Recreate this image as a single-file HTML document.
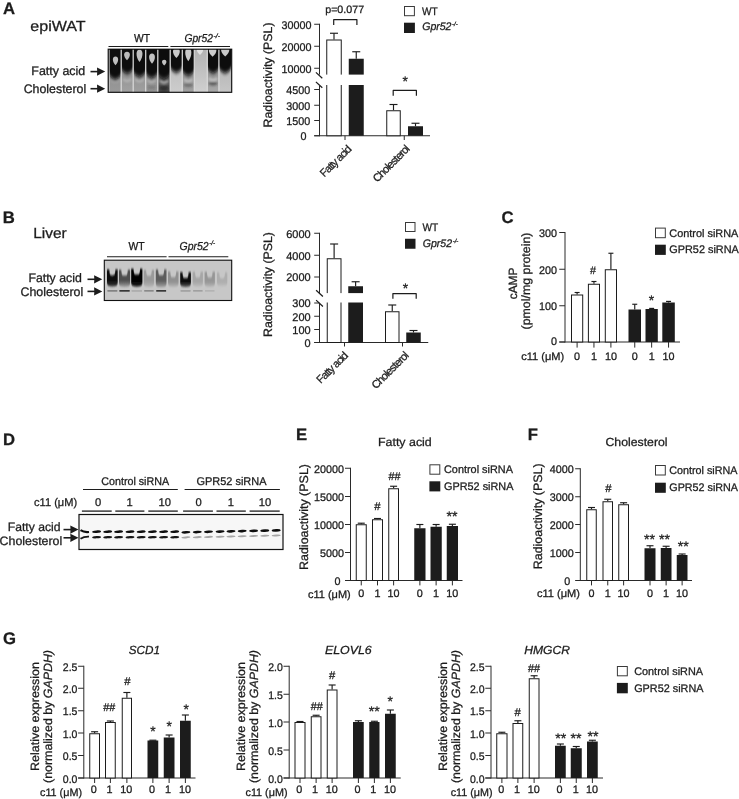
<!DOCTYPE html>
<html lang="en">
<head>
<meta charset="utf-8">
<title>Figure: GPR52 and lipid synthesis</title>
<style>
html,body{margin:0;padding:0;background:#fff;}
body{width:739px;height:799px;overflow:hidden;}
svg{display:block;font-family:"Liberation Sans",sans-serif;fill:#1c1c1c;text-rendering:geometricPrecision;}
svg text{stroke:#1c1c1c;stroke-width:0.28px;}
</style>
</head>
<body>
<svg width="739" height="799" viewBox="0 0 739 799">
<rect x="0" y="0" width="739" height="799" fill="#fff"/>
<defs>
<filter id="b1" x="-20%" y="-20%" width="140%" height="140%"><feGaussianBlur stdDeviation="1.0"/></filter>
<filter id="b05" x="-20%" y="-50%" width="140%" height="200%"><feGaussianBlur stdDeviation="0.55"/></filter>
<filter id="b07" x="-20%" y="-20%" width="140%" height="140%"><feGaussianBlur stdDeviation="0.7"/></filter>
<filter id="bv" x="-20%" y="-20%" width="140%" height="140%"><feGaussianBlur stdDeviation="0.35 2.3"/></filter>
<filter id="bv2" x="-20%" y="-20%" width="140%" height="140%"><feGaussianBlur stdDeviation="0.55 1.1"/></filter>
<filter id="b09" x="-30%" y="-30%" width="160%" height="160%"><feGaussianBlur stdDeviation="0.6"/></filter>
<filter id="b15" x="-30%" y="-30%" width="160%" height="160%"><feGaussianBlur stdDeviation="1.5"/></filter>
<clipPath id="clipA"><rect x="108" y="49" width="123.8" height="43.4"/></clipPath>
<clipPath id="clipB"><rect x="104" y="260" width="127.9" height="40.6"/></clipPath>
<clipPath id="clipD"><rect x="79" y="514.5" width="204" height="35"/></clipPath>
</defs>
<text x="3.00" y="13.90" font-size="16.7" font-weight="bold" stroke-width="0">A</text>
<text x="30.30" y="30.90" font-size="14.6" textLength="55.40" lengthAdjust="spacingAndGlyphs">epiWAT</text>
<text x="31.30" y="74.80" font-size="12.4" textLength="54.00" lengthAdjust="spacingAndGlyphs">Fatty acid</text>
<text x="23.70" y="92.80" font-size="12.4" textLength="62.50" lengthAdjust="spacingAndGlyphs">Cholesterol</text>
<line x1="90.50" y1="71.60" x2="98.00" y2="71.60" stroke="#1c1c1c" stroke-width="1.6"/>
<path d="M105.20 71.60 L97.00 67.50 L97.20 71.60 L97.00 75.70 Z" fill="#1c1c1c"/>
<line x1="90.50" y1="88.70" x2="98.00" y2="88.70" stroke="#1c1c1c" stroke-width="1.6"/>
<path d="M105.20 88.70 L97.00 84.60 L97.20 88.70 L97.00 92.80 Z" fill="#1c1c1c"/>
<text x="134.00" y="41.80" font-size="11.5" textLength="16.10" lengthAdjust="spacingAndGlyphs">WT</text>
<text x="184.40" y="41.80" font-size="11.5" textLength="28.60" lengthAdjust="spacingAndGlyphs" font-style="italic">Gpr52</text>
<text x="213.60" y="37.66" font-size="6.325" textLength="6.40" lengthAdjust="spacingAndGlyphs" font-style="italic">-/-</text>
<line x1="108.50" y1="46.50" x2="168.30" y2="46.50" stroke="#1c1c1c" stroke-width="1.1"/>
<line x1="170.40" y1="46.50" x2="230.00" y2="46.50" stroke="#1c1c1c" stroke-width="1.1"/>
<g clip-path="url(#clipA)">
<rect x="108.00" y="49.00" width="124.00" height="43.50" fill="#a0a0a0"/>
<linearGradient id="la1" x1="0" y1="0" x2="0" y2="1"><stop offset="0" stop-color="#8c8c8c"/><stop offset="1" stop-color="#9a9a9a"/></linearGradient>
<rect x="109.00" y="66" width="12.30" height="27" fill="url(#la1)"/>
<linearGradient id="la2" x1="0" y1="0" x2="0" y2="1"><stop offset="0" stop-color="#8e8e8e"/><stop offset="1" stop-color="#a2a2a2"/></linearGradient>
<rect x="121.10" y="66" width="12.20" height="27" fill="url(#la2)"/>
<linearGradient id="la3" x1="0" y1="0" x2="0" y2="1"><stop offset="0" stop-color="#8e8e8e"/><stop offset="1" stop-color="#a0a0a0"/></linearGradient>
<rect x="133.10" y="66" width="12.70" height="27" fill="url(#la3)"/>
<linearGradient id="la4" x1="0" y1="0" x2="0" y2="1"><stop offset="0" stop-color="#8a8a8a"/><stop offset="1" stop-color="#989898"/></linearGradient>
<rect x="145.60" y="66" width="12.30" height="27" fill="url(#la4)"/>
<linearGradient id="la5" x1="0" y1="0" x2="0" y2="1"><stop offset="0" stop-color="#707070"/><stop offset="1" stop-color="#4a4a4a"/></linearGradient>
<rect x="157.70" y="66" width="12.60" height="27" fill="url(#la5)"/>
<linearGradient id="la6" x1="0" y1="0" x2="0" y2="1"><stop offset="0" stop-color="#bebebe"/><stop offset="1" stop-color="#cdcdcd"/></linearGradient>
<rect x="170.10" y="66" width="12.30" height="27" fill="url(#la6)"/>
<linearGradient id="la7" x1="0" y1="0" x2="0" y2="1"><stop offset="0" stop-color="#929292"/><stop offset="1" stop-color="#a0a0a0"/></linearGradient>
<rect x="182.20" y="66" width="12.20" height="27" fill="url(#la7)"/>
<linearGradient id="la8" x1="0" y1="0" x2="0" y2="1"><stop offset="0" stop-color="#b2b2b2"/><stop offset="1" stop-color="#d0d0d0"/></linearGradient>
<rect x="194.20" y="49" width="13.20" height="44" fill="url(#la8)"/>
<linearGradient id="la9" x1="0" y1="0" x2="0" y2="1"><stop offset="0" stop-color="#909090"/><stop offset="1" stop-color="#a8a8a8"/></linearGradient>
<rect x="207.20" y="66" width="11.80" height="27" fill="url(#la9)"/>
<linearGradient id="la10" x1="0" y1="0" x2="0" y2="1"><stop offset="0" stop-color="#b6b6b6"/><stop offset="1" stop-color="#c6c6c6"/></linearGradient>
<rect x="218.80" y="66" width="12.50" height="27" fill="url(#la10)"/>
<g filter="url(#bv)">
<path d="M108.90 40 V70.30 C108.90 75.70 112.15 79.30 115.15 79.30 C118.15 79.30 121.40 75.70 121.40 70.30 V40 Z" fill="#0b0b0b"/>
<path d="M121.00 40 V64.50 C121.00 69.90 124.20 73.50 127.20 73.50 C130.20 73.50 133.40 69.90 133.40 64.50 V40 Z" fill="#0b0b0b"/>
<path d="M133.00 40 V67.80 C133.00 73.20 136.45 76.80 139.45 76.80 C142.45 76.80 145.90 73.20 145.90 67.80 V40 Z" fill="#0b0b0b"/>
<path d="M145.50 40 V68.70 C145.50 74.10 148.75 77.70 151.75 77.70 C154.75 77.70 158.00 74.10 158.00 68.70 V40 Z" fill="#0b0b0b"/>
<path d="M157.60 40 V69.80 C157.60 75.20 161.00 78.80 164.00 78.80 C167.00 78.80 170.40 75.20 170.40 69.80 V40 Z" fill="#0b0b0b"/>
<path d="M170.00 40 V63.50 C170.00 68.90 173.25 72.50 176.25 72.50 C179.25 72.50 182.50 68.90 182.50 63.50 V40 Z" fill="#0b0b0b"/>
<path d="M182.10 40 V66.50 C182.10 71.90 185.30 75.50 188.30 75.50 C191.30 75.50 194.50 71.90 194.50 66.50 V40 Z" fill="#0b0b0b"/>
<path d="M207.10 40 V64.00 C207.10 69.40 210.10 73.00 213.10 73.00 C216.10 73.00 219.10 69.40 219.10 64.00 V40 Z" fill="#0b0b0b"/>
<path d="M218.70 40 V64.00 C218.70 69.40 222.05 73.00 225.05 73.00 C228.05 73.00 231.40 69.40 231.40 64.00 V40 Z" fill="#0b0b0b"/>
</g>
<g filter="url(#b09)">
<path d="M115.50 56.40 C118.80 56.40 119.22 61.24 115.50 65.20 C111.78 61.24 112.20 56.40 115.50 56.40 Z" fill="#bebebe"/>
<path d="M127.00 51.80 C130.63 51.80 131.09 56.42 127.00 60.20 C122.91 56.42 123.37 51.80 127.00 51.80 Z" fill="#bababa"/>
<path d="M139.50 49.40 C143.24 49.40 143.72 56.33 139.50 62.00 C135.28 56.33 135.76 49.40 139.50 49.40 Z" fill="#c0c0c0"/>
<path d="M152.00 53.40 C155.63 53.40 156.09 59.12 152.00 63.80 C147.91 59.12 148.37 53.40 152.00 53.40 Z" fill="#c2c2c2"/>
<path d="M164.20 59.80 C166.95 59.80 167.30 62.99 164.20 65.60 C161.10 62.99 161.45 59.80 164.20 59.80 Z" fill="#c2c2c2"/>
<path d="M176.40 48.00 C180.69 48.00 181.24 53.50 176.40 58.00 C171.56 53.50 172.11 48.00 176.40 48.00 Z" fill="#cacaca"/>
<path d="M188.30 48.00 C192.15 48.00 192.64 55.26 188.30 61.20 C183.96 55.26 184.45 48.00 188.30 48.00 Z" fill="#cacaca"/>
<path d="M200.00 47.00 C203.85 47.00 204.34 51.40 200.00 55.00 C195.66 51.40 196.15 47.00 200.00 47.00 Z" fill="#e2e2e2"/>
<path d="M212.60 47.00 C217.33 47.00 217.93 52.39 212.60 56.80 C207.27 52.39 207.87 47.00 212.60 47.00 Z" fill="#cccccc"/>
<path d="M225.20 46.00 C230.37 46.00 231.03 51.72 225.20 56.40 C219.37 51.72 220.03 46.00 225.20 46.00 Z" fill="#c8c8c8"/>
</g>
<g filter="url(#b1)">
<path d="M111.00 79.90 Q115.20 84.10 119.40 79.90" fill="none" stroke="#d4d4d4" stroke-width="2.0" opacity="0.35"/>
<path d="M123.00 79.00 Q127.20 83.20 131.40 79.00" fill="none" stroke="#d4d4d4" stroke-width="2.0" opacity="0.5"/>
<path d="M135.20 79.40 Q139.40 83.60 143.60 79.40" fill="none" stroke="#d4d4d4" stroke-width="2.0" opacity="0.55"/>
<path d="M147.30 80.00 Q151.50 84.20 155.70 80.00" fill="none" stroke="#d4d4d4" stroke-width="2.0" opacity="0.55"/>
<path d="M159.80 80.60 Q164.00 84.80 168.20 80.60" fill="none" stroke="#d4d4d4" stroke-width="2.0" opacity="0.8"/>
<path d="M184.10 79.40 Q188.30 83.60 192.50 79.40" fill="none" stroke="#d4d4d4" stroke-width="2.0" opacity="0.75"/>
<path d="M208.80 78.20 Q213.00 82.40 217.20 78.20" fill="none" stroke="#d4d4d4" stroke-width="2.0" opacity="0.8"/>
<ellipse cx="164.0" cy="88.2" rx="4.6" ry="2.6" fill="#2a2a2a" opacity="0.85"/>
<ellipse cx="213.0" cy="83.6" rx="4.6" ry="1.8" fill="#2a2a2a" opacity="0.55"/>
<ellipse cx="188.3" cy="85.0" rx="4.6" ry="2.2" fill="#2a2a2a" opacity="0.35"/>
<ellipse cx="151.5" cy="87.5" rx="4.6" ry="2.2" fill="#2a2a2a" opacity="0.2"/>
</g>
<line x1="121.20" y1="49.00" x2="121.20" y2="93.00" stroke="#dadada" stroke-width="1.25"/>
<line x1="133.20" y1="49.00" x2="133.20" y2="93.00" stroke="#dadada" stroke-width="1.25"/>
<line x1="145.70" y1="49.00" x2="145.70" y2="93.00" stroke="#dadada" stroke-width="1.25"/>
<line x1="157.80" y1="49.00" x2="157.80" y2="93.00" stroke="#dadada" stroke-width="1.25"/>
<line x1="170.20" y1="49.00" x2="170.20" y2="93.00" stroke="#dadada" stroke-width="1.25"/>
<line x1="182.30" y1="49.00" x2="182.30" y2="93.00" stroke="#dadada" stroke-width="1.25"/>
<line x1="194.30" y1="49.00" x2="194.30" y2="93.00" stroke="#dadada" stroke-width="1.25"/>
<line x1="207.30" y1="49.00" x2="207.30" y2="93.00" stroke="#dadada" stroke-width="1.25"/>
<line x1="218.90" y1="49.00" x2="218.90" y2="93.00" stroke="#dadada" stroke-width="1.25"/>
<line x1="109.20" y1="49.00" x2="109.20" y2="93.00" stroke="#d0d0d0" stroke-width="0.9"/>
</g>
<rect x="108.20" y="49.20" width="123.50" height="43.10" fill="none" stroke="#111" stroke-width="1.15"/>
<text x="272.00" y="75.00" font-size="12.2" text-anchor="middle" textLength="105.00" lengthAdjust="spacingAndGlyphs" transform="rotate(-90 272.00 75.00)">Radioactivity (PSL)</text>
<line x1="314.20" y1="24.25" x2="319.50" y2="24.25" stroke="#2a2a2a" stroke-width="1.0"/>
<text x="311.40" y="28.55" font-size="11.2" text-anchor="end" textLength="30.00" lengthAdjust="spacingAndGlyphs">30000</text>
<line x1="314.20" y1="46.25" x2="319.50" y2="46.25" stroke="#2a2a2a" stroke-width="1.0"/>
<text x="311.40" y="50.55" font-size="11.2" text-anchor="end" textLength="30.00" lengthAdjust="spacingAndGlyphs">20000</text>
<line x1="314.20" y1="68.25" x2="319.50" y2="68.25" stroke="#2a2a2a" stroke-width="1.0"/>
<text x="311.40" y="72.55" font-size="11.2" text-anchor="end" textLength="30.00" lengthAdjust="spacingAndGlyphs">10000</text>
<line x1="314.20" y1="89.50" x2="319.50" y2="89.50" stroke="#2a2a2a" stroke-width="1.0"/>
<text x="310.30" y="93.80" font-size="11.2" text-anchor="end" textLength="24.00" lengthAdjust="spacingAndGlyphs">4500</text>
<line x1="314.20" y1="105.25" x2="319.50" y2="105.25" stroke="#2a2a2a" stroke-width="1.0"/>
<text x="310.30" y="109.55" font-size="11.2" text-anchor="end" textLength="24.00" lengthAdjust="spacingAndGlyphs">3000</text>
<line x1="314.20" y1="120.50" x2="319.50" y2="120.50" stroke="#2a2a2a" stroke-width="1.0"/>
<text x="310.30" y="124.80" font-size="11.2" text-anchor="end" textLength="24.00" lengthAdjust="spacingAndGlyphs">1500</text>
<line x1="314.20" y1="135.75" x2="319.50" y2="135.75" stroke="#2a2a2a" stroke-width="1.0"/>
<text x="306.60" y="140.05" font-size="11.2" text-anchor="end" textLength="6.00" lengthAdjust="spacingAndGlyphs">0</text>
<line x1="319.50" y1="23.75" x2="319.50" y2="74.60" stroke="#2a2a2a" stroke-width="1.0"/>
<line x1="319.50" y1="85.60" x2="319.50" y2="136.25" stroke="#2a2a2a" stroke-width="1.0"/>
<line x1="314.20" y1="135.75" x2="430.00" y2="135.75" stroke="#2a2a2a" stroke-width="1.0"/>
<line x1="345.00" y1="135.75" x2="345.00" y2="140.00" stroke="#2a2a2a" stroke-width="1.0"/>
<line x1="404.25" y1="135.75" x2="404.25" y2="140.00" stroke="#2a2a2a" stroke-width="1.0"/>
<line x1="334.00" y1="39.50" x2="334.00" y2="33.25" stroke="#1c1c1c" stroke-width="1.15"/>
<line x1="330.00" y1="33.25" x2="338.00" y2="33.25" stroke="#1c1c1c" stroke-width="1.15"/>
<rect x="326.75" y="40.00" width="14.50" height="95.75" fill="#fff" stroke="#1c1c1c" stroke-width="1.0"/>
<line x1="356.25" y1="58.75" x2="356.25" y2="51.75" stroke="#1c1c1c" stroke-width="1.15"/>
<line x1="352.25" y1="51.75" x2="360.25" y2="51.75" stroke="#1c1c1c" stroke-width="1.15"/>
<rect x="348.75" y="58.75" width="15.00" height="77.00" fill="#1c1c1c"/>
<rect x="324.00" y="74.60" width="46.00" height="10.40" fill="#fff"/>
<line x1="315.90" y1="72.40" x2="322.30" y2="78.20" stroke="#1c1c1c" stroke-width="1.25"/>
<line x1="315.90" y1="81.90" x2="322.30" y2="87.70" stroke="#1c1c1c" stroke-width="1.25"/>
<line x1="393.50" y1="110.25" x2="393.50" y2="104.50" stroke="#1c1c1c" stroke-width="1.15"/>
<line x1="389.50" y1="104.50" x2="397.50" y2="104.50" stroke="#1c1c1c" stroke-width="1.15"/>
<rect x="386.75" y="110.75" width="13.50" height="25.00" fill="#fff" stroke="#1c1c1c" stroke-width="1.0"/>
<line x1="415.50" y1="126.25" x2="415.50" y2="123.25" stroke="#1c1c1c" stroke-width="1.15"/>
<line x1="411.50" y1="123.25" x2="419.50" y2="123.25" stroke="#1c1c1c" stroke-width="1.15"/>
<rect x="408.00" y="126.25" width="15.00" height="9.50" fill="#1c1c1c"/>
<path d="M333.70 24.90 V19.60 H356.90 V24.90" fill="none" stroke="#1c1c1c" stroke-width="1.2" stroke-linejoin="round"/>
<text x="325.20" y="13.00" font-size="10.6" textLength="38.90" lengthAdjust="spacingAndGlyphs">p=0.077</text>
<path d="M393.20 95.80 V90.40 H416.40 V95.80" fill="none" stroke="#1c1c1c" stroke-width="1.2" stroke-linejoin="round"/>
<text x="405.20" y="86.30" font-size="13.8" text-anchor="middle">*</text>
<text x="352.30" y="149.70" font-size="11.0" text-anchor="end" textLength="39.50" lengthAdjust="spacing" transform="rotate(-45 352.30 149.70)">Fatty acid</text>
<text x="410.60" y="149.40" font-size="11.0" text-anchor="end" textLength="47.30" lengthAdjust="spacing" transform="rotate(-45 410.60 149.40)">Cholesterol</text>
<rect x="404.50" y="6.50" width="9.90" height="9.20" fill="#fff" stroke="#3a3a3a" stroke-width="1.0"/>
<rect x="404.00" y="22.70" width="10.90" height="10.30" fill="#1c1c1c"/>
<text x="421.90" y="14.60" font-size="11" textLength="15.70" lengthAdjust="spacingAndGlyphs">WT</text>
<text x="422.20" y="30.00" font-size="11" textLength="29.30" lengthAdjust="spacingAndGlyphs" font-style="italic">Gpr52</text>
<text x="452.10" y="26.04" font-size="6.050000000000001" textLength="5.70" lengthAdjust="spacingAndGlyphs" font-style="italic">-/-</text>
<text x="2.70" y="222.90" font-size="16.7" font-weight="bold" stroke-width="0">B</text>
<text x="33.20" y="237.60" font-size="14.6" textLength="33.50" lengthAdjust="spacingAndGlyphs">Liver</text>
<text x="28.40" y="281.90" font-size="12.4" textLength="53.40" lengthAdjust="spacingAndGlyphs">Fatty acid</text>
<text x="20.50" y="295.90" font-size="12.4" textLength="62.80" lengthAdjust="spacingAndGlyphs">Cholesterol</text>
<line x1="87.50" y1="279.30" x2="95.10" y2="279.30" stroke="#1c1c1c" stroke-width="1.6"/>
<path d="M102.30 279.30 L94.10 275.20 L94.30 279.30 L94.10 283.40 Z" fill="#1c1c1c"/>
<line x1="87.50" y1="291.40" x2="95.10" y2="291.40" stroke="#1c1c1c" stroke-width="1.6"/>
<path d="M102.30 291.40 L94.10 287.30 L94.30 291.40 L94.10 295.50 Z" fill="#1c1c1c"/>
<text x="128.50" y="249.50" font-size="11.5" textLength="16.20" lengthAdjust="spacingAndGlyphs">WT</text>
<text x="179.50" y="249.50" font-size="11.5" textLength="29.10" lengthAdjust="spacingAndGlyphs" font-style="italic">Gpr52</text>
<text x="209.20" y="245.36" font-size="6.325" textLength="6.00" lengthAdjust="spacingAndGlyphs" font-style="italic">-/-</text>
<line x1="107.00" y1="256.70" x2="166.60" y2="256.70" stroke="#1c1c1c" stroke-width="1.1"/>
<line x1="168.50" y1="256.70" x2="228.30" y2="256.70" stroke="#1c1c1c" stroke-width="1.1"/>
<g clip-path="url(#clipB)">
<rect x="104.00" y="260.00" width="128.20" height="40.80" fill="#c7c7c7"/>
<g filter="url(#bv2)">
<linearGradient id="lb0" gradientUnits="userSpaceOnUse" x1="0" y1="275.4" x2="0" y2="286.6"><stop offset="0" stop-color="#0c0c0c"/><stop offset="0.45" stop-color="#0c0c0c"/><stop offset="1" stop-color="#3a3a3a"/></linearGradient>
<path d="M107.00 269.60 L109.30 269.60 C109.60 275.69 110.50 275.40 112.35 275.40 C114.20 275.40 115.10 275.69 115.40 269.60 L117.70 269.60 V283.10 Q117.70 286.60 112.35 286.60 Q107.00 286.60 107.00 283.10 Z" fill="url(#lb0)"/>
<linearGradient id="lb1" gradientUnits="userSpaceOnUse" x1="0" y1="275.6" x2="0" y2="287.0"><stop offset="0" stop-color="#4e4e4e"/><stop offset="0.45" stop-color="#4e4e4e"/><stop offset="1" stop-color="#a2a2a2"/></linearGradient>
<path d="M119.00 269.80 L121.30 269.80 C121.60 275.89 122.50 275.60 124.55 275.60 C126.60 275.60 127.50 275.89 127.80 269.80 L130.10 269.80 V283.50 Q130.10 287.00 124.55 287.00 Q119.00 287.00 119.00 283.50 Z" fill="url(#lb1)"/>
<linearGradient id="lb2" gradientUnits="userSpaceOnUse" x1="0" y1="274.6" x2="0" y2="286.4"><stop offset="0" stop-color="#050505"/><stop offset="0.45" stop-color="#050505"/><stop offset="1" stop-color="#0a0a0a"/></linearGradient>
<path d="M131.20 268.80 L133.50 268.80 C133.80 274.89 134.70 274.60 136.80 274.60 C138.90 274.60 139.80 274.89 140.10 268.80 L142.40 268.80 V282.90 Q142.40 286.40 136.80 286.40 Q131.20 286.40 131.20 282.90 Z" fill="url(#lb2)"/>
<linearGradient id="lb3" gradientUnits="userSpaceOnUse" x1="0" y1="275.8" x2="0" y2="287.0"><stop offset="0" stop-color="#9a9a9a"/><stop offset="0.45" stop-color="#9a9a9a"/><stop offset="1" stop-color="#b4b4b4"/></linearGradient>
<path d="M143.80 270.00 L146.10 270.00 C146.40 276.09 147.30 275.80 148.95 275.80 C150.60 275.80 151.50 276.09 151.80 270.00 L154.10 270.00 V283.50 Q154.10 287.00 148.95 287.00 Q143.80 287.00 143.80 283.50 Z" fill="url(#lb3)"/>
<linearGradient id="lb4" gradientUnits="userSpaceOnUse" x1="0" y1="275.2" x2="0" y2="287.2"><stop offset="0" stop-color="#5c5c5c"/><stop offset="0.45" stop-color="#5c5c5c"/><stop offset="1" stop-color="#a0a0a0"/></linearGradient>
<path d="M155.80 269.40 L158.10 269.40 C158.40 275.49 159.30 275.20 161.15 275.20 C163.00 275.20 163.90 275.49 164.20 269.40 L166.50 269.40 V283.70 Q166.50 287.20 161.15 287.20 Q155.80 287.20 155.80 283.70 Z" fill="url(#lb4)"/>
<linearGradient id="lb5" gradientUnits="userSpaceOnUse" x1="0" y1="277.2" x2="0" y2="287.0"><stop offset="0" stop-color="#909090"/><stop offset="0.45" stop-color="#909090"/><stop offset="1" stop-color="#b6b6b6"/></linearGradient>
<path d="M168.00 271.40 L170.30 271.40 C170.60 277.49 171.50 277.20 173.25 277.20 C175.00 277.20 175.90 277.49 176.20 271.40 L178.50 271.40 V283.50 Q178.50 287.00 173.25 287.00 Q168.00 287.00 168.00 283.50 Z" fill="url(#lb5)"/>
<linearGradient id="lb6" gradientUnits="userSpaceOnUse" x1="0" y1="278.0" x2="0" y2="287.0"><stop offset="0" stop-color="#0e0e0e"/><stop offset="0.45" stop-color="#0e0e0e"/><stop offset="1" stop-color="#5a5a5a"/></linearGradient>
<path d="M180.20 272.20 L182.50 272.20 C182.80 278.29 183.70 278.00 185.55 278.00 C187.40 278.00 188.30 278.29 188.60 272.20 L190.90 272.20 V283.50 Q190.90 287.00 185.55 287.00 Q180.20 287.00 180.20 283.50 Z" fill="url(#lb6)"/>
<linearGradient id="lb7" gradientUnits="userSpaceOnUse" x1="0" y1="277.6" x2="0" y2="286.8"><stop offset="0" stop-color="#a6a6a6"/><stop offset="0.45" stop-color="#a6a6a6"/><stop offset="1" stop-color="#bcbcbc"/></linearGradient>
<path d="M192.70 271.80 L195.00 271.80 C195.30 277.89 196.20 277.60 197.80 277.60 C199.40 277.60 200.30 277.89 200.60 271.80 L202.90 271.80 V283.30 Q202.90 286.80 197.80 286.80 Q192.70 286.80 192.70 283.30 Z" fill="url(#lb7)"/>
<linearGradient id="lb8" gradientUnits="userSpaceOnUse" x1="0" y1="277.6" x2="0" y2="287.0"><stop offset="0" stop-color="#969696"/><stop offset="0.45" stop-color="#969696"/><stop offset="1" stop-color="#b8b8b8"/></linearGradient>
<path d="M204.60 271.80 L206.90 271.80 C207.20 277.89 208.10 277.60 209.75 277.60 C211.40 277.60 212.30 277.89 212.60 271.80 L214.90 271.80 V283.50 Q214.90 287.00 209.75 287.00 Q204.60 287.00 204.60 283.50 Z" fill="url(#lb8)"/>
<linearGradient id="lb9" gradientUnits="userSpaceOnUse" x1="0" y1="278.4" x2="0" y2="286.6"><stop offset="0" stop-color="#aeaeae"/><stop offset="0.45" stop-color="#aeaeae"/><stop offset="1" stop-color="#c0c0c0"/></linearGradient>
<path d="M217.00 272.60 L219.30 272.60 C219.60 278.69 220.50 278.40 222.15 278.40 C223.80 278.40 224.70 278.69 225.00 272.60 L227.30 272.60 V283.10 Q227.30 286.60 222.15 286.60 Q217.00 286.60 217.00 283.10 Z" fill="url(#lb9)"/>
</g>
<g filter="url(#b05)">
<rect x="107.40" y="290.0" width="9.90" height="1.7" fill="#222" opacity="0.42"/>
<rect x="119.40" y="290.0" width="10.30" height="1.7" fill="#222" opacity="0.85"/>
<rect x="131.60" y="290.0" width="10.40" height="1.7" fill="#222" opacity="0.16"/>
<rect x="144.20" y="290.0" width="9.50" height="1.7" fill="#222" opacity="0.36"/>
<rect x="156.20" y="290.0" width="9.90" height="1.7" fill="#222" opacity="0.85"/>
<rect x="180.60" y="290.0" width="9.90" height="1.7" fill="#222" opacity="0.22"/>
<rect x="193.10" y="290.0" width="9.40" height="1.7" fill="#222" opacity="0.24"/>
<rect x="205.00" y="290.0" width="9.50" height="1.7" fill="#222" opacity="0.1"/>
</g>
</g>
<rect x="104.30" y="260.20" width="127.40" height="40.30" fill="none" stroke="#111" stroke-width="1.1"/>
<text x="272.40" y="284.50" font-size="12.2" text-anchor="middle" textLength="105.00" lengthAdjust="spacingAndGlyphs" transform="rotate(-90 272.40 284.50)">Radioactivity (PSL)</text>
<line x1="314.20" y1="233.25" x2="319.50" y2="233.25" stroke="#2a2a2a" stroke-width="1.0"/>
<text x="310.60" y="237.65" font-size="11.2" text-anchor="end" textLength="24.40" lengthAdjust="spacingAndGlyphs">6000</text>
<line x1="314.20" y1="255.25" x2="319.50" y2="255.25" stroke="#2a2a2a" stroke-width="1.0"/>
<text x="310.60" y="259.65" font-size="11.2" text-anchor="end" textLength="24.40" lengthAdjust="spacingAndGlyphs">4000</text>
<line x1="314.20" y1="277.00" x2="319.50" y2="277.00" stroke="#2a2a2a" stroke-width="1.0"/>
<text x="310.60" y="281.40" font-size="11.2" text-anchor="end" textLength="24.40" lengthAdjust="spacingAndGlyphs">2000</text>
<line x1="314.20" y1="303.00" x2="319.50" y2="303.00" stroke="#2a2a2a" stroke-width="1.0"/>
<text x="310.60" y="307.40" font-size="11.2" text-anchor="end" textLength="18.30" lengthAdjust="spacingAndGlyphs">300</text>
<line x1="314.20" y1="316.25" x2="319.50" y2="316.25" stroke="#2a2a2a" stroke-width="1.0"/>
<text x="310.60" y="320.65" font-size="11.2" text-anchor="end" textLength="18.30" lengthAdjust="spacingAndGlyphs">200</text>
<line x1="314.20" y1="329.50" x2="319.50" y2="329.50" stroke="#2a2a2a" stroke-width="1.0"/>
<text x="310.60" y="333.90" font-size="11.2" text-anchor="end" textLength="18.30" lengthAdjust="spacingAndGlyphs">100</text>
<line x1="314.20" y1="342.50" x2="319.50" y2="342.50" stroke="#2a2a2a" stroke-width="1.0"/>
<text x="310.60" y="346.90" font-size="11.2" text-anchor="end" textLength="6.10" lengthAdjust="spacingAndGlyphs">0</text>
<line x1="319.50" y1="232.75" x2="319.50" y2="293.20" stroke="#2a2a2a" stroke-width="1.0"/>
<line x1="319.50" y1="303.20" x2="319.50" y2="343.00" stroke="#2a2a2a" stroke-width="1.0"/>
<line x1="314.20" y1="342.50" x2="428.25" y2="342.50" stroke="#2a2a2a" stroke-width="1.0"/>
<line x1="344.50" y1="342.50" x2="344.50" y2="346.50" stroke="#2a2a2a" stroke-width="1.0"/>
<line x1="402.50" y1="342.50" x2="402.50" y2="346.50" stroke="#2a2a2a" stroke-width="1.0"/>
<line x1="334.12" y1="258.25" x2="334.12" y2="244.00" stroke="#1c1c1c" stroke-width="1.15"/>
<line x1="330.12" y1="244.00" x2="338.12" y2="244.00" stroke="#1c1c1c" stroke-width="1.15"/>
<rect x="327.25" y="258.75" width="13.75" height="83.75" fill="#fff" stroke="#1c1c1c" stroke-width="1.0"/>
<line x1="355.62" y1="286.25" x2="355.62" y2="281.75" stroke="#1c1c1c" stroke-width="1.15"/>
<line x1="351.62" y1="281.75" x2="359.62" y2="281.75" stroke="#1c1c1c" stroke-width="1.15"/>
<rect x="348.25" y="286.25" width="14.75" height="56.25" fill="#1c1c1c"/>
<rect x="324.00" y="293.10" width="46.00" height="9.40" fill="#fff"/>
<line x1="316.10" y1="290.30" x2="322.90" y2="296.50" stroke="#1c1c1c" stroke-width="1.25"/>
<line x1="316.10" y1="300.10" x2="322.90" y2="306.50" stroke="#1c1c1c" stroke-width="1.25"/>
<line x1="392.25" y1="311.25" x2="392.25" y2="305.00" stroke="#1c1c1c" stroke-width="1.15"/>
<line x1="388.25" y1="305.00" x2="396.25" y2="305.00" stroke="#1c1c1c" stroke-width="1.15"/>
<rect x="385.50" y="311.75" width="13.50" height="30.75" fill="#fff" stroke="#1c1c1c" stroke-width="1.0"/>
<line x1="413.50" y1="332.50" x2="413.50" y2="330.50" stroke="#1c1c1c" stroke-width="1.15"/>
<line x1="409.50" y1="330.50" x2="417.50" y2="330.50" stroke="#1c1c1c" stroke-width="1.15"/>
<rect x="406.25" y="332.50" width="14.50" height="10.00" fill="#1c1c1c"/>
<path d="M392.90 298.80 V293.60 H416.20 V298.80" fill="none" stroke="#1c1c1c" stroke-width="1.2" stroke-linejoin="round"/>
<text x="405.50" y="292.90" font-size="13.8" text-anchor="middle">*</text>
<text x="348.80" y="356.20" font-size="11.0" text-anchor="end" textLength="39.50" lengthAdjust="spacing" transform="rotate(-45 348.80 356.20)">Fatty acid</text>
<text x="409.40" y="356.10" font-size="11.0" text-anchor="end" textLength="47.30" lengthAdjust="spacing" transform="rotate(-45 409.40 356.10)">Cholesterol</text>
<rect x="405.50" y="222.50" width="9.50" height="9.00" fill="#fff" stroke="#3a3a3a" stroke-width="1.0"/>
<rect x="405.00" y="238.75" width="10.50" height="10.00" fill="#1c1c1c"/>
<text x="422.50" y="230.50" font-size="11" textLength="15.70" lengthAdjust="spacingAndGlyphs">WT</text>
<text x="422.80" y="246.75" font-size="11" textLength="29.30" lengthAdjust="spacingAndGlyphs" font-style="italic">Gpr52</text>
<text x="452.70" y="242.79" font-size="6.050000000000001" textLength="5.70" lengthAdjust="spacingAndGlyphs" font-style="italic">-/-</text>
<text x="501.60" y="222.90" font-size="16.7" font-weight="bold" stroke-width="0">C</text>
<text x="517.50" y="283.40" font-size="12" text-anchor="middle" textLength="31.80" lengthAdjust="spacingAndGlyphs" transform="rotate(-90 517.50 283.40)">cAMP</text>
<text x="530.00" y="281.00" font-size="12" text-anchor="middle" textLength="96.80" lengthAdjust="spacingAndGlyphs" transform="rotate(-90 530.00 281.00)">(pmol/mg protein)</text>
<line x1="559.25" y1="232.50" x2="565.00" y2="232.50" stroke="#2a2a2a" stroke-width="1.0"/>
<text x="557.00" y="237.00" font-size="11.0" text-anchor="end" textLength="18.00" lengthAdjust="spacingAndGlyphs">300</text>
<line x1="559.25" y1="269.25" x2="565.00" y2="269.25" stroke="#2a2a2a" stroke-width="1.0"/>
<text x="557.00" y="273.75" font-size="11.0" text-anchor="end" textLength="18.00" lengthAdjust="spacingAndGlyphs">200</text>
<line x1="559.25" y1="305.75" x2="565.00" y2="305.75" stroke="#2a2a2a" stroke-width="1.0"/>
<text x="557.00" y="310.25" font-size="11.0" text-anchor="end" textLength="18.00" lengthAdjust="spacingAndGlyphs">100</text>
<line x1="559.25" y1="342.00" x2="565.00" y2="342.00" stroke="#2a2a2a" stroke-width="1.0"/>
<text x="557.00" y="345.20" font-size="11.0" text-anchor="end" textLength="6.00" lengthAdjust="spacingAndGlyphs">0</text>
<line x1="565.00" y1="232.00" x2="565.00" y2="342.50" stroke="#2a2a2a" stroke-width="1.0"/>
<line x1="559.25" y1="342.00" x2="680.00" y2="342.00" stroke="#2a2a2a" stroke-width="1.0"/>
<line x1="577.10" y1="294.50" x2="577.10" y2="292.50" stroke="#1c1c1c" stroke-width="1.15"/>
<line x1="574.60" y1="292.50" x2="579.60" y2="292.50" stroke="#1c1c1c" stroke-width="1.15"/>
<rect x="571.50" y="295.00" width="11.20" height="47.00" fill="#fff" stroke="#1c1c1c" stroke-width="1.0"/>
<line x1="577.10" y1="342.00" x2="577.10" y2="347.60" stroke="#2a2a2a" stroke-width="1.0"/>
<text x="577.10" y="359.50" font-size="10.8" text-anchor="middle">0</text>
<line x1="593.95" y1="283.75" x2="593.95" y2="281.50" stroke="#1c1c1c" stroke-width="1.15"/>
<line x1="591.45" y1="281.50" x2="596.45" y2="281.50" stroke="#1c1c1c" stroke-width="1.15"/>
<rect x="588.40" y="284.25" width="11.10" height="57.75" fill="#fff" stroke="#1c1c1c" stroke-width="1.0"/>
<line x1="593.95" y1="342.00" x2="593.95" y2="347.60" stroke="#2a2a2a" stroke-width="1.0"/>
<text x="593.95" y="359.50" font-size="10.8" text-anchor="middle">1</text>
<line x1="610.90" y1="269.25" x2="610.90" y2="253.25" stroke="#1c1c1c" stroke-width="1.15"/>
<line x1="608.40" y1="253.25" x2="613.40" y2="253.25" stroke="#1c1c1c" stroke-width="1.15"/>
<rect x="605.30" y="269.75" width="11.20" height="72.25" fill="#fff" stroke="#1c1c1c" stroke-width="1.0"/>
<line x1="610.90" y1="342.00" x2="610.90" y2="347.60" stroke="#2a2a2a" stroke-width="1.0"/>
<text x="610.90" y="359.50" font-size="10.8" text-anchor="middle">10</text>
<line x1="634.75" y1="309.50" x2="634.75" y2="304.25" stroke="#1c1c1c" stroke-width="1.15"/>
<line x1="632.25" y1="304.25" x2="637.25" y2="304.25" stroke="#1c1c1c" stroke-width="1.15"/>
<rect x="628.50" y="309.50" width="12.50" height="32.50" fill="#1c1c1c"/>
<line x1="634.75" y1="342.00" x2="634.75" y2="347.60" stroke="#2a2a2a" stroke-width="1.0"/>
<text x="634.75" y="359.50" font-size="10.8" text-anchor="middle">0</text>
<line x1="651.65" y1="309.00" x2="651.65" y2="308.40" stroke="#1c1c1c" stroke-width="1.15"/>
<line x1="649.15" y1="308.40" x2="654.15" y2="308.40" stroke="#1c1c1c" stroke-width="1.15"/>
<rect x="645.50" y="309.00" width="12.30" height="33.00" fill="#1c1c1c"/>
<line x1="651.65" y1="342.00" x2="651.65" y2="347.60" stroke="#2a2a2a" stroke-width="1.0"/>
<text x="651.65" y="359.50" font-size="10.8" text-anchor="middle">1</text>
<line x1="668.55" y1="302.50" x2="668.55" y2="301.40" stroke="#1c1c1c" stroke-width="1.15"/>
<line x1="666.05" y1="301.40" x2="671.05" y2="301.40" stroke="#1c1c1c" stroke-width="1.15"/>
<rect x="662.30" y="302.50" width="12.50" height="39.50" fill="#1c1c1c"/>
<line x1="668.55" y1="342.00" x2="668.55" y2="347.60" stroke="#2a2a2a" stroke-width="1.0"/>
<text x="668.55" y="359.50" font-size="10.8" text-anchor="middle">10</text>
<text x="521.25" y="359.50" font-size="10.8" textLength="43.00" lengthAdjust="spacingAndGlyphs">c11 (μM)</text>
<text x="593.00" y="273.60" font-size="10.8" text-anchor="middle">#</text>
<text x="651.40" y="304.90" font-size="13.8" text-anchor="middle">*</text>
<rect x="655.50" y="228.10" width="9.80" height="9.60" fill="#fff" stroke="#3a3a3a" stroke-width="1.0"/>
<rect x="655.00" y="244.70" width="10.80" height="10.20" fill="#1c1c1c"/>
<text x="669.30" y="236.50" font-size="11" textLength="69.00" lengthAdjust="spacingAndGlyphs">Control siRNA</text>
<text x="669.30" y="253.30" font-size="11" textLength="69.50" lengthAdjust="spacingAndGlyphs">GPR52 siRNA</text>
<text x="2.90" y="444.50" font-size="16.7" font-weight="bold" stroke-width="0">D</text>
<text x="101.30" y="484.80" font-size="11.2" textLength="67.80" lengthAdjust="spacingAndGlyphs">Control siRNA</text>
<text x="196.50" y="484.80" font-size="11.2" textLength="70.00" lengthAdjust="spacingAndGlyphs">GPR52 siRNA</text>
<line x1="83.00" y1="489.50" x2="177.80" y2="489.50" stroke="#1c1c1c" stroke-width="1.1"/>
<line x1="184.60" y1="489.50" x2="279.90" y2="489.50" stroke="#1c1c1c" stroke-width="1.1"/>
<text x="34.10" y="505.50" font-size="11.2" textLength="43.00" lengthAdjust="spacingAndGlyphs">c11 (μM)</text>
<text x="98.00" y="505.50" font-size="11.2" text-anchor="middle">0</text>
<text x="129.50" y="505.50" font-size="11.2" text-anchor="middle">1</text>
<text x="164.70" y="505.50" font-size="11.2" text-anchor="middle">10</text>
<text x="198.60" y="505.50" font-size="11.2" text-anchor="middle">0</text>
<text x="230.80" y="505.50" font-size="11.2" text-anchor="middle">1</text>
<text x="265.00" y="505.50" font-size="11.2" text-anchor="middle">10</text>
<line x1="81.90" y1="511.10" x2="111.70" y2="511.10" stroke="#1c1c1c" stroke-width="1.3"/>
<line x1="115.30" y1="511.10" x2="144.40" y2="511.10" stroke="#1c1c1c" stroke-width="1.3"/>
<line x1="148.30" y1="511.10" x2="177.80" y2="511.10" stroke="#1c1c1c" stroke-width="1.3"/>
<line x1="183.10" y1="511.10" x2="212.90" y2="511.10" stroke="#1c1c1c" stroke-width="1.3"/>
<line x1="216.50" y1="511.10" x2="245.80" y2="511.10" stroke="#1c1c1c" stroke-width="1.3"/>
<line x1="249.60" y1="511.10" x2="279.70" y2="511.10" stroke="#1c1c1c" stroke-width="1.3"/>
<text x="7.70" y="530.60" font-size="12.2" textLength="52.80" lengthAdjust="spacingAndGlyphs">Fatty acid</text>
<text x="-0.40" y="544.80" font-size="12.2" textLength="62.60" lengthAdjust="spacingAndGlyphs">Cholesterol</text>
<line x1="63.50" y1="529.60" x2="71.30" y2="529.60" stroke="#1c1c1c" stroke-width="1.6"/>
<path d="M78.50 529.60 L70.30 525.50 L70.50 529.60 L70.30 533.70 Z" fill="#1c1c1c"/>
<line x1="63.50" y1="537.80" x2="71.30" y2="537.80" stroke="#1c1c1c" stroke-width="1.6"/>
<path d="M78.50 537.80 L70.30 533.70 L70.50 537.80 L70.30 541.90 Z" fill="#1c1c1c"/>
<g clip-path="url(#clipD)">
<rect x="79.00" y="514.50" width="204.00" height="35.00" fill="#f7f7f7"/>
<g filter="url(#b05)">
<path d="M80.5 530.2 Q84 532.6 89 532.0" fill="none" stroke="#111" stroke-width="2.2"/>
<path d="M80.5 538.8 Q84 536.4 89 536.6" fill="none" stroke="#161616" stroke-width="1.8"/>
<ellipse cx="96.60" cy="531.70" rx="4.5" ry="1.3" fill="#0a0a0a" transform="rotate(-3 96.60 531.70)"/>
<ellipse cx="96.60" cy="537.20" rx="4.5" ry="1.15" fill="#161616" transform="rotate(-3.5999999999999996 96.60 537.20)"/>
<ellipse cx="107.70" cy="531.70" rx="4.5" ry="1.3" fill="#0a0a0a" transform="rotate(-3 107.70 531.70)"/>
<ellipse cx="107.70" cy="537.20" rx="4.5" ry="1.15" fill="#161616" transform="rotate(-3.5999999999999996 107.70 537.20)"/>
<ellipse cx="118.60" cy="531.70" rx="4.5" ry="1.3" fill="#0a0a0a" transform="rotate(-3 118.60 531.70)"/>
<ellipse cx="118.60" cy="537.20" rx="4.5" ry="1.15" fill="#161616" transform="rotate(-3.5999999999999996 118.60 537.20)"/>
<ellipse cx="130.00" cy="531.70" rx="4.5" ry="1.3" fill="#0a0a0a" transform="rotate(-3 130.00 531.70)"/>
<ellipse cx="130.00" cy="537.20" rx="4.5" ry="1.15" fill="#161616" transform="rotate(-3.5999999999999996 130.00 537.20)"/>
<ellipse cx="141.20" cy="531.70" rx="4.5" ry="1.3" fill="#0a0a0a" transform="rotate(-3 141.20 531.70)"/>
<ellipse cx="141.20" cy="537.20" rx="4.5" ry="1.15" fill="#161616" transform="rotate(-3.5999999999999996 141.20 537.20)"/>
<ellipse cx="152.40" cy="531.70" rx="4.5" ry="1.3" fill="#0a0a0a" transform="rotate(-3 152.40 531.70)"/>
<ellipse cx="152.40" cy="537.20" rx="4.5" ry="1.15" fill="#161616" transform="rotate(-3.5999999999999996 152.40 537.20)"/>
<ellipse cx="163.60" cy="531.70" rx="4.5" ry="1.3" fill="#0a0a0a" transform="rotate(-3 163.60 531.70)"/>
<ellipse cx="163.60" cy="537.20" rx="4.5" ry="1.15" fill="#161616" transform="rotate(-3.5999999999999996 163.60 537.20)"/>
<ellipse cx="174.70" cy="531.70" rx="4.5" ry="1.3" fill="#0a0a0a" transform="rotate(-3 174.70 531.70)"/>
<ellipse cx="174.70" cy="537.20" rx="4.5" ry="1.15" fill="#161616" transform="rotate(-3.5999999999999996 174.70 537.20)"/>
<ellipse cx="185.90" cy="532.30" rx="4.5" ry="1.3" fill="#0a0a0a" transform="rotate(-3 185.90 532.30)"/>
<ellipse cx="185.90" cy="537.40" rx="4.5" ry="1.0" fill="#a6a6a6" transform="rotate(-3.5999999999999996 185.90 537.40)"/>
<ellipse cx="197.30" cy="532.06" rx="4.5" ry="1.3" fill="#0a0a0a" transform="rotate(-3 197.30 532.06)"/>
<ellipse cx="197.30" cy="537.16" rx="4.5" ry="1.0" fill="#a6a6a6" transform="rotate(-3.5999999999999996 197.30 537.16)"/>
<ellipse cx="208.50" cy="531.82" rx="4.5" ry="1.3" fill="#0a0a0a" transform="rotate(-3 208.50 531.82)"/>
<ellipse cx="208.50" cy="536.92" rx="4.5" ry="1.0" fill="#a6a6a6" transform="rotate(-3.5999999999999996 208.50 536.92)"/>
<ellipse cx="220.10" cy="531.59" rx="4.5" ry="1.3" fill="#0a0a0a" transform="rotate(-3 220.10 531.59)"/>
<ellipse cx="220.10" cy="536.69" rx="4.5" ry="1.0" fill="#a6a6a6" transform="rotate(-3.5999999999999996 220.10 536.69)"/>
<ellipse cx="231.00" cy="531.35" rx="4.5" ry="1.3" fill="#0a0a0a" transform="rotate(-3 231.00 531.35)"/>
<ellipse cx="231.00" cy="536.45" rx="4.5" ry="1.0" fill="#a6a6a6" transform="rotate(-3.5999999999999996 231.00 536.45)"/>
<ellipse cx="242.20" cy="531.11" rx="4.5" ry="1.3" fill="#0a0a0a" transform="rotate(-3 242.20 531.11)"/>
<ellipse cx="242.20" cy="536.21" rx="4.5" ry="1.0" fill="#a6a6a6" transform="rotate(-3.5999999999999996 242.20 536.21)"/>
<ellipse cx="253.60" cy="530.88" rx="4.5" ry="1.3" fill="#0a0a0a" transform="rotate(-3 253.60 530.88)"/>
<ellipse cx="253.60" cy="535.98" rx="4.5" ry="1.0" fill="#a6a6a6" transform="rotate(-3.5999999999999996 253.60 535.98)"/>
<ellipse cx="264.80" cy="530.64" rx="4.5" ry="1.3" fill="#0a0a0a" transform="rotate(-3 264.80 530.64)"/>
<ellipse cx="264.80" cy="535.74" rx="4.5" ry="1.0" fill="#a6a6a6" transform="rotate(-3.5999999999999996 264.80 535.74)"/>
<ellipse cx="276.20" cy="530.40" rx="4.5" ry="1.3" fill="#0a0a0a" transform="rotate(-3 276.20 530.40)"/>
<ellipse cx="276.20" cy="535.50" rx="4.5" ry="1.0" fill="#a6a6a6" transform="rotate(-3.5999999999999996 276.20 535.50)"/>
</g></g>
<rect x="79.00" y="514.50" width="204.00" height="35.00" fill="none" stroke="#111" stroke-width="1.2"/>
<text x="295.90" y="439.90" font-size="16.7" font-weight="bold" stroke-width="0">E</text>
<text x="378.00" y="445.75" font-size="11.8" textLength="53.75" lengthAdjust="spacingAndGlyphs">Fatty acid</text>
<text x="307.90" y="517.00" font-size="12.2" text-anchor="middle" textLength="106.00" lengthAdjust="spacingAndGlyphs" transform="rotate(-90 307.90 517.00)">Radioactivity (PSL)</text>
<line x1="345.00" y1="468.25" x2="350.50" y2="468.25" stroke="#2a2a2a" stroke-width="1.0"/>
<text x="343.90" y="472.75" font-size="11.0" text-anchor="end" textLength="30.00" lengthAdjust="spacingAndGlyphs">20000</text>
<line x1="345.00" y1="496.50" x2="350.50" y2="496.50" stroke="#2a2a2a" stroke-width="1.0"/>
<text x="343.90" y="501.00" font-size="11.0" text-anchor="end" textLength="30.00" lengthAdjust="spacingAndGlyphs">15000</text>
<line x1="345.00" y1="524.50" x2="350.50" y2="524.50" stroke="#2a2a2a" stroke-width="1.0"/>
<text x="343.90" y="529.00" font-size="11.0" text-anchor="end" textLength="30.00" lengthAdjust="spacingAndGlyphs">10000</text>
<line x1="345.00" y1="552.50" x2="350.50" y2="552.50" stroke="#2a2a2a" stroke-width="1.0"/>
<text x="343.90" y="557.00" font-size="11.0" text-anchor="end" textLength="24.00" lengthAdjust="spacingAndGlyphs">5000</text>
<line x1="345.00" y1="580.50" x2="350.50" y2="580.50" stroke="#2a2a2a" stroke-width="1.0"/>
<text x="340.40" y="585.00" font-size="11.0" text-anchor="end" textLength="6.00" lengthAdjust="spacingAndGlyphs">0</text>
<line x1="350.50" y1="467.75" x2="350.50" y2="581.00" stroke="#2a2a2a" stroke-width="1.0"/>
<line x1="345.50" y1="580.50" x2="462.50" y2="580.50" stroke="#2a2a2a" stroke-width="1.0"/>
<line x1="361.25" y1="524.25" x2="361.25" y2="523.20" stroke="#1c1c1c" stroke-width="1.15"/>
<line x1="357.75" y1="523.20" x2="364.75" y2="523.20" stroke="#1c1c1c" stroke-width="1.15"/>
<rect x="356.25" y="524.75" width="10.00" height="55.75" fill="#fff" stroke="#1c1c1c" stroke-width="1.0"/>
<line x1="361.25" y1="580.50" x2="361.25" y2="585.40" stroke="#2a2a2a" stroke-width="1.0"/>
<text x="361.25" y="596.60" font-size="10.8" text-anchor="middle">0</text>
<line x1="377.50" y1="519.25" x2="377.50" y2="518.50" stroke="#1c1c1c" stroke-width="1.15"/>
<line x1="374.00" y1="518.50" x2="381.00" y2="518.50" stroke="#1c1c1c" stroke-width="1.15"/>
<rect x="372.50" y="519.75" width="10.00" height="60.75" fill="#fff" stroke="#1c1c1c" stroke-width="1.0"/>
<line x1="377.50" y1="580.50" x2="377.50" y2="585.40" stroke="#2a2a2a" stroke-width="1.0"/>
<text x="377.50" y="596.60" font-size="10.8" text-anchor="middle">1</text>
<line x1="393.62" y1="488.25" x2="393.62" y2="486.25" stroke="#1c1c1c" stroke-width="1.15"/>
<line x1="390.12" y1="486.25" x2="397.12" y2="486.25" stroke="#1c1c1c" stroke-width="1.15"/>
<rect x="388.75" y="488.75" width="9.75" height="91.75" fill="#fff" stroke="#1c1c1c" stroke-width="1.0"/>
<line x1="393.62" y1="580.50" x2="393.62" y2="585.40" stroke="#2a2a2a" stroke-width="1.0"/>
<text x="393.62" y="596.60" font-size="10.8" text-anchor="middle">10</text>
<line x1="419.88" y1="528.25" x2="419.88" y2="524.50" stroke="#1c1c1c" stroke-width="1.15"/>
<line x1="416.38" y1="524.50" x2="423.38" y2="524.50" stroke="#1c1c1c" stroke-width="1.15"/>
<rect x="414.25" y="528.25" width="11.25" height="52.25" fill="#1c1c1c"/>
<line x1="419.88" y1="580.50" x2="419.88" y2="585.40" stroke="#2a2a2a" stroke-width="1.0"/>
<text x="419.88" y="596.60" font-size="10.8" text-anchor="middle">0</text>
<line x1="436.12" y1="526.75" x2="436.12" y2="524.50" stroke="#1c1c1c" stroke-width="1.15"/>
<line x1="432.62" y1="524.50" x2="439.62" y2="524.50" stroke="#1c1c1c" stroke-width="1.15"/>
<rect x="430.50" y="526.75" width="11.25" height="53.75" fill="#1c1c1c"/>
<line x1="436.12" y1="580.50" x2="436.12" y2="585.40" stroke="#2a2a2a" stroke-width="1.0"/>
<text x="436.12" y="596.60" font-size="10.8" text-anchor="middle">1</text>
<line x1="452.38" y1="526.00" x2="452.38" y2="524.25" stroke="#1c1c1c" stroke-width="1.15"/>
<line x1="448.88" y1="524.25" x2="455.88" y2="524.25" stroke="#1c1c1c" stroke-width="1.15"/>
<rect x="446.75" y="526.00" width="11.25" height="54.50" fill="#1c1c1c"/>
<line x1="452.38" y1="580.50" x2="452.38" y2="585.40" stroke="#2a2a2a" stroke-width="1.0"/>
<text x="452.38" y="596.60" font-size="10.8" text-anchor="middle">10</text>
<text x="308.00" y="598.00" font-size="10.8" textLength="42.75" lengthAdjust="spacingAndGlyphs">c11 (μM)</text>
<text x="377.30" y="510.30" font-size="11.3" text-anchor="middle">#</text>
<text x="394.40" y="480.00" font-size="11.3" text-anchor="middle" textLength="12.00" lengthAdjust="spacingAndGlyphs">##</text>
<text x="452.00" y="521.35" font-size="13.8" text-anchor="middle" textLength="11.00" lengthAdjust="spacingAndGlyphs">**</text>
<rect x="429.90" y="464.80" width="9.90" height="9.40" fill="#fff" stroke="#3a3a3a" stroke-width="1.0"/>
<rect x="429.40" y="481.30" width="10.90" height="10.10" fill="#1c1c1c"/>
<text x="444.00" y="472.70" font-size="11" textLength="68.90" lengthAdjust="spacingAndGlyphs">Control siRNA</text>
<text x="444.00" y="489.80" font-size="11" textLength="69.40" lengthAdjust="spacingAndGlyphs">GPR52 siRNA</text>
<text x="527.70" y="439.90" font-size="16.7" font-weight="bold" stroke-width="0">F</text>
<text x="605.50" y="445.75" font-size="11.8" textLength="62.00" lengthAdjust="spacingAndGlyphs">Cholesterol</text>
<text x="542.00" y="516.30" font-size="12.2" text-anchor="middle" textLength="106.00" lengthAdjust="spacingAndGlyphs" transform="rotate(-90 542.00 516.30)">Radioactivity (PSL)</text>
<line x1="575.20" y1="468.75" x2="580.30" y2="468.75" stroke="#2a2a2a" stroke-width="1.0"/>
<text x="573.80" y="473.25" font-size="11.0" text-anchor="end" textLength="24.00" lengthAdjust="spacingAndGlyphs">4000</text>
<line x1="575.20" y1="496.75" x2="580.30" y2="496.75" stroke="#2a2a2a" stroke-width="1.0"/>
<text x="573.80" y="501.25" font-size="11.0" text-anchor="end" textLength="24.00" lengthAdjust="spacingAndGlyphs">3000</text>
<line x1="575.20" y1="524.50" x2="580.30" y2="524.50" stroke="#2a2a2a" stroke-width="1.0"/>
<text x="573.80" y="529.00" font-size="11.0" text-anchor="end" textLength="24.00" lengthAdjust="spacingAndGlyphs">2000</text>
<line x1="575.20" y1="552.50" x2="580.30" y2="552.50" stroke="#2a2a2a" stroke-width="1.0"/>
<text x="573.80" y="557.00" font-size="11.0" text-anchor="end" textLength="24.00" lengthAdjust="spacingAndGlyphs">1000</text>
<line x1="575.20" y1="580.50" x2="580.30" y2="580.50" stroke="#2a2a2a" stroke-width="1.0"/>
<text x="570.20" y="585.00" font-size="11.0" text-anchor="end" textLength="6.00" lengthAdjust="spacingAndGlyphs">0</text>
<line x1="580.30" y1="468.25" x2="580.30" y2="581.00" stroke="#2a2a2a" stroke-width="1.0"/>
<line x1="575.75" y1="580.50" x2="692.00" y2="580.50" stroke="#2a2a2a" stroke-width="1.0"/>
<line x1="591.50" y1="509.25" x2="591.50" y2="507.50" stroke="#1c1c1c" stroke-width="1.15"/>
<line x1="588.00" y1="507.50" x2="595.00" y2="507.50" stroke="#1c1c1c" stroke-width="1.15"/>
<rect x="586.75" y="509.75" width="9.50" height="70.75" fill="#fff" stroke="#1c1c1c" stroke-width="1.0"/>
<line x1="591.50" y1="580.50" x2="591.50" y2="585.40" stroke="#2a2a2a" stroke-width="1.0"/>
<text x="591.50" y="596.60" font-size="10.8" text-anchor="middle">0</text>
<line x1="607.75" y1="501.25" x2="607.75" y2="499.25" stroke="#1c1c1c" stroke-width="1.15"/>
<line x1="604.25" y1="499.25" x2="611.25" y2="499.25" stroke="#1c1c1c" stroke-width="1.15"/>
<rect x="603.00" y="501.75" width="9.50" height="78.75" fill="#fff" stroke="#1c1c1c" stroke-width="1.0"/>
<line x1="607.75" y1="580.50" x2="607.75" y2="585.40" stroke="#2a2a2a" stroke-width="1.0"/>
<text x="607.75" y="596.60" font-size="10.8" text-anchor="middle">1</text>
<line x1="623.62" y1="504.25" x2="623.62" y2="502.75" stroke="#1c1c1c" stroke-width="1.15"/>
<line x1="620.12" y1="502.75" x2="627.12" y2="502.75" stroke="#1c1c1c" stroke-width="1.15"/>
<rect x="618.75" y="504.75" width="9.75" height="75.75" fill="#fff" stroke="#1c1c1c" stroke-width="1.0"/>
<line x1="623.62" y1="580.50" x2="623.62" y2="585.40" stroke="#2a2a2a" stroke-width="1.0"/>
<text x="623.62" y="596.60" font-size="10.8" text-anchor="middle">10</text>
<line x1="650.00" y1="548.25" x2="650.00" y2="545.75" stroke="#1c1c1c" stroke-width="1.15"/>
<line x1="646.50" y1="545.75" x2="653.50" y2="545.75" stroke="#1c1c1c" stroke-width="1.15"/>
<rect x="644.50" y="548.25" width="11.00" height="32.25" fill="#1c1c1c"/>
<line x1="650.00" y1="580.50" x2="650.00" y2="585.40" stroke="#2a2a2a" stroke-width="1.0"/>
<text x="650.00" y="596.60" font-size="10.8" text-anchor="middle">0</text>
<line x1="666.12" y1="548.00" x2="666.12" y2="546.25" stroke="#1c1c1c" stroke-width="1.15"/>
<line x1="662.62" y1="546.25" x2="669.62" y2="546.25" stroke="#1c1c1c" stroke-width="1.15"/>
<rect x="660.75" y="548.00" width="10.75" height="32.50" fill="#1c1c1c"/>
<line x1="666.12" y1="580.50" x2="666.12" y2="585.40" stroke="#2a2a2a" stroke-width="1.0"/>
<text x="666.12" y="596.60" font-size="10.8" text-anchor="middle">1</text>
<line x1="682.12" y1="555.00" x2="682.12" y2="554.00" stroke="#1c1c1c" stroke-width="1.15"/>
<line x1="678.62" y1="554.00" x2="685.62" y2="554.00" stroke="#1c1c1c" stroke-width="1.15"/>
<rect x="676.75" y="555.00" width="10.75" height="25.50" fill="#1c1c1c"/>
<line x1="682.12" y1="580.50" x2="682.12" y2="585.40" stroke="#2a2a2a" stroke-width="1.0"/>
<text x="682.12" y="596.60" font-size="10.8" text-anchor="middle">10</text>
<text x="537.00" y="596.70" font-size="10.8" textLength="43.00" lengthAdjust="spacingAndGlyphs">c11 (μM)</text>
<text x="608.30" y="492.00" font-size="11.3" text-anchor="middle">#</text>
<text x="649.40" y="544.10" font-size="13.8" text-anchor="middle" textLength="11.00" lengthAdjust="spacingAndGlyphs">**</text>
<text x="664.60" y="544.10" font-size="13.8" text-anchor="middle" textLength="11.00" lengthAdjust="spacingAndGlyphs">**</text>
<text x="683.20" y="550.50" font-size="13.8" text-anchor="middle" textLength="11.00" lengthAdjust="spacingAndGlyphs">**</text>
<rect x="655.50" y="465.50" width="9.80" height="9.50" fill="#fff" stroke="#3a3a3a" stroke-width="1.0"/>
<rect x="655.00" y="482.70" width="10.80" height="10.10" fill="#1c1c1c"/>
<text x="669.30" y="474.20" font-size="11" textLength="68.20" lengthAdjust="spacingAndGlyphs">Control siRNA</text>
<text x="669.30" y="491.30" font-size="11" textLength="68.70" lengthAdjust="spacingAndGlyphs">GPR52 siRNA</text>
<text x="2.90" y="643.50" font-size="16.7" font-weight="bold" stroke-width="0">G</text>
<text x="128.75" y="653.75" font-size="11.8" textLength="31.25" lengthAdjust="spacingAndGlyphs" font-style="italic">SCD1</text>
<text x="38.50" y="716.50" font-size="12" text-anchor="middle" textLength="109.00" lengthAdjust="spacingAndGlyphs" transform="rotate(-90 38.50 716.50)">Relative expression</text>
<text x="51.60" y="716.50" font-size="12" text-anchor="middle" textLength="133.00" lengthAdjust="spacingAndGlyphs" transform="rotate(-90 51.60 716.50)">(normalized by <tspan font-style="italic">GAPDH)</tspan></text>
<line x1="78.10" y1="666.25" x2="83.80" y2="666.25" stroke="#2a2a2a" stroke-width="1.0"/>
<text x="77.40" y="670.75" font-size="11.0" text-anchor="end" textLength="14.60" lengthAdjust="spacingAndGlyphs">2.5</text>
<line x1="78.10" y1="688.25" x2="83.80" y2="688.25" stroke="#2a2a2a" stroke-width="1.0"/>
<text x="77.40" y="692.75" font-size="11.0" text-anchor="end" textLength="14.60" lengthAdjust="spacingAndGlyphs">2.0</text>
<line x1="78.10" y1="710.75" x2="83.80" y2="710.75" stroke="#2a2a2a" stroke-width="1.0"/>
<text x="77.40" y="715.25" font-size="11.0" text-anchor="end" textLength="14.60" lengthAdjust="spacingAndGlyphs">1.5</text>
<line x1="78.10" y1="733.00" x2="83.80" y2="733.00" stroke="#2a2a2a" stroke-width="1.0"/>
<text x="77.40" y="737.50" font-size="11.0" text-anchor="end" textLength="14.60" lengthAdjust="spacingAndGlyphs">1.0</text>
<line x1="78.10" y1="755.50" x2="83.80" y2="755.50" stroke="#2a2a2a" stroke-width="1.0"/>
<text x="77.40" y="760.00" font-size="11.0" text-anchor="end" textLength="14.60" lengthAdjust="spacingAndGlyphs">0.5</text>
<line x1="78.10" y1="778.00" x2="83.80" y2="778.00" stroke="#2a2a2a" stroke-width="1.0"/>
<text x="77.40" y="782.50" font-size="11.0" text-anchor="end" textLength="14.60" lengthAdjust="spacingAndGlyphs">0.0</text>
<line x1="83.80" y1="665.75" x2="83.80" y2="778.50" stroke="#2a2a2a" stroke-width="1.0"/>
<line x1="78.10" y1="778.00" x2="195.50" y2="778.00" stroke="#2a2a2a" stroke-width="1.0"/>
<line x1="94.62" y1="733.25" x2="94.62" y2="731.75" stroke="#1c1c1c" stroke-width="1.15"/>
<line x1="91.12" y1="731.75" x2="98.12" y2="731.75" stroke="#1c1c1c" stroke-width="1.15"/>
<rect x="89.75" y="733.75" width="9.75" height="44.25" fill="#fff" stroke="#1c1c1c" stroke-width="1.0"/>
<line x1="94.62" y1="778.00" x2="94.62" y2="783.00" stroke="#2a2a2a" stroke-width="1.0"/>
<text x="93.75" y="793.25" font-size="10.8" text-anchor="middle">0</text>
<line x1="110.38" y1="722.00" x2="110.38" y2="721.00" stroke="#1c1c1c" stroke-width="1.15"/>
<line x1="106.88" y1="721.00" x2="113.88" y2="721.00" stroke="#1c1c1c" stroke-width="1.15"/>
<rect x="105.50" y="722.50" width="9.75" height="55.50" fill="#fff" stroke="#1c1c1c" stroke-width="1.0"/>
<line x1="110.38" y1="778.00" x2="110.38" y2="783.00" stroke="#2a2a2a" stroke-width="1.0"/>
<text x="109.50" y="793.25" font-size="10.8" text-anchor="middle">1</text>
<line x1="126.88" y1="697.75" x2="126.88" y2="692.50" stroke="#1c1c1c" stroke-width="1.15"/>
<line x1="123.38" y1="692.50" x2="130.38" y2="692.50" stroke="#1c1c1c" stroke-width="1.15"/>
<rect x="122.25" y="698.25" width="9.25" height="79.75" fill="#fff" stroke="#1c1c1c" stroke-width="1.0"/>
<line x1="126.88" y1="778.00" x2="126.88" y2="783.00" stroke="#2a2a2a" stroke-width="1.0"/>
<text x="126.25" y="793.25" font-size="10.8" text-anchor="middle">10</text>
<line x1="152.88" y1="740.50" x2="152.88" y2="740.20" stroke="#1c1c1c" stroke-width="1.15"/>
<line x1="149.38" y1="740.20" x2="156.38" y2="740.20" stroke="#1c1c1c" stroke-width="1.15"/>
<rect x="147.50" y="740.50" width="10.75" height="37.50" fill="#1c1c1c"/>
<line x1="152.88" y1="778.00" x2="152.88" y2="783.00" stroke="#2a2a2a" stroke-width="1.0"/>
<text x="152.00" y="793.25" font-size="10.8" text-anchor="middle">0</text>
<line x1="169.12" y1="737.50" x2="169.12" y2="735.00" stroke="#1c1c1c" stroke-width="1.15"/>
<line x1="165.62" y1="735.00" x2="172.62" y2="735.00" stroke="#1c1c1c" stroke-width="1.15"/>
<rect x="163.75" y="737.50" width="10.75" height="40.50" fill="#1c1c1c"/>
<line x1="169.12" y1="778.00" x2="169.12" y2="783.00" stroke="#2a2a2a" stroke-width="1.0"/>
<text x="168.00" y="793.25" font-size="10.8" text-anchor="middle">1</text>
<line x1="185.38" y1="720.75" x2="185.38" y2="715.00" stroke="#1c1c1c" stroke-width="1.15"/>
<line x1="181.88" y1="715.00" x2="188.88" y2="715.00" stroke="#1c1c1c" stroke-width="1.15"/>
<rect x="180.00" y="720.75" width="10.75" height="57.25" fill="#1c1c1c"/>
<line x1="185.38" y1="778.00" x2="185.38" y2="783.00" stroke="#2a2a2a" stroke-width="1.0"/>
<text x="185.00" y="793.25" font-size="10.8" text-anchor="middle">10</text>
<text x="40.00" y="795.75" font-size="10.8" textLength="42.00" lengthAdjust="spacingAndGlyphs">c11 (μM)</text>
<text x="109.25" y="711.40" font-size="11.3" text-anchor="middle" textLength="12.00" lengthAdjust="spacingAndGlyphs">##</text>
<text x="127.50" y="685.15" font-size="11.3" text-anchor="middle">#</text>
<text x="153.00" y="736.05" font-size="13.8" text-anchor="middle">*</text>
<text x="169.25" y="730.55" font-size="13.8" text-anchor="middle">*</text>
<text x="186.25" y="714.30" font-size="13.8" text-anchor="middle">*</text>
<text x="325.00" y="653.75" font-size="11.8" textLength="46.75" lengthAdjust="spacingAndGlyphs" font-style="italic">ELOVL6</text>
<text x="244.80" y="716.50" font-size="12" text-anchor="middle" textLength="109.00" lengthAdjust="spacingAndGlyphs" transform="rotate(-90 244.80 716.50)">Relative expression</text>
<text x="257.90" y="716.50" font-size="12" text-anchor="middle" textLength="133.00" lengthAdjust="spacingAndGlyphs" transform="rotate(-90 257.90 716.50)">(normalized by <tspan font-style="italic">GAPDH)</tspan></text>
<line x1="283.50" y1="666.25" x2="289.20" y2="666.25" stroke="#2a2a2a" stroke-width="1.0"/>
<text x="282.80" y="670.75" font-size="11.0" text-anchor="end" textLength="14.60" lengthAdjust="spacingAndGlyphs">2.0</text>
<line x1="283.50" y1="694.25" x2="289.20" y2="694.25" stroke="#2a2a2a" stroke-width="1.0"/>
<text x="282.80" y="698.75" font-size="11.0" text-anchor="end" textLength="14.60" lengthAdjust="spacingAndGlyphs">1.5</text>
<line x1="283.50" y1="722.00" x2="289.20" y2="722.00" stroke="#2a2a2a" stroke-width="1.0"/>
<text x="282.80" y="726.50" font-size="11.0" text-anchor="end" textLength="14.60" lengthAdjust="spacingAndGlyphs">1.0</text>
<line x1="283.50" y1="750.00" x2="289.20" y2="750.00" stroke="#2a2a2a" stroke-width="1.0"/>
<text x="282.80" y="754.50" font-size="11.0" text-anchor="end" textLength="14.60" lengthAdjust="spacingAndGlyphs">0.5</text>
<line x1="283.50" y1="778.00" x2="289.20" y2="778.00" stroke="#2a2a2a" stroke-width="1.0"/>
<text x="282.80" y="782.50" font-size="11.0" text-anchor="end" textLength="14.60" lengthAdjust="spacingAndGlyphs">0.0</text>
<line x1="289.20" y1="665.75" x2="289.20" y2="778.50" stroke="#2a2a2a" stroke-width="1.0"/>
<line x1="283.50" y1="778.00" x2="400.75" y2="778.00" stroke="#2a2a2a" stroke-width="1.0"/>
<line x1="300.00" y1="722.00" x2="300.00" y2="721.50" stroke="#1c1c1c" stroke-width="1.15"/>
<line x1="296.50" y1="721.50" x2="303.50" y2="721.50" stroke="#1c1c1c" stroke-width="1.15"/>
<rect x="295.00" y="722.50" width="10.00" height="55.50" fill="#fff" stroke="#1c1c1c" stroke-width="1.0"/>
<line x1="300.00" y1="778.00" x2="300.00" y2="783.00" stroke="#2a2a2a" stroke-width="1.0"/>
<text x="299.25" y="793.25" font-size="10.8" text-anchor="middle">0</text>
<line x1="316.12" y1="716.25" x2="316.12" y2="715.25" stroke="#1c1c1c" stroke-width="1.15"/>
<line x1="312.62" y1="715.25" x2="319.62" y2="715.25" stroke="#1c1c1c" stroke-width="1.15"/>
<rect x="311.25" y="716.75" width="9.75" height="61.25" fill="#fff" stroke="#1c1c1c" stroke-width="1.0"/>
<line x1="316.12" y1="778.00" x2="316.12" y2="783.00" stroke="#2a2a2a" stroke-width="1.0"/>
<text x="315.00" y="793.25" font-size="10.8" text-anchor="middle">1</text>
<line x1="332.12" y1="689.50" x2="332.12" y2="685.00" stroke="#1c1c1c" stroke-width="1.15"/>
<line x1="328.62" y1="685.00" x2="335.62" y2="685.00" stroke="#1c1c1c" stroke-width="1.15"/>
<rect x="327.25" y="690.00" width="9.75" height="88.00" fill="#fff" stroke="#1c1c1c" stroke-width="1.0"/>
<line x1="332.12" y1="778.00" x2="332.12" y2="783.00" stroke="#2a2a2a" stroke-width="1.0"/>
<text x="331.75" y="793.25" font-size="10.8" text-anchor="middle">10</text>
<line x1="358.38" y1="722.00" x2="358.38" y2="720.75" stroke="#1c1c1c" stroke-width="1.15"/>
<line x1="354.88" y1="720.75" x2="361.88" y2="720.75" stroke="#1c1c1c" stroke-width="1.15"/>
<rect x="353.00" y="722.00" width="10.75" height="56.00" fill="#1c1c1c"/>
<line x1="358.38" y1="778.00" x2="358.38" y2="783.00" stroke="#2a2a2a" stroke-width="1.0"/>
<text x="357.50" y="793.25" font-size="10.8" text-anchor="middle">0</text>
<line x1="374.38" y1="722.00" x2="374.38" y2="721.25" stroke="#1c1c1c" stroke-width="1.15"/>
<line x1="370.88" y1="721.25" x2="377.88" y2="721.25" stroke="#1c1c1c" stroke-width="1.15"/>
<rect x="369.25" y="722.00" width="10.25" height="56.00" fill="#1c1c1c"/>
<line x1="374.38" y1="778.00" x2="374.38" y2="783.00" stroke="#2a2a2a" stroke-width="1.0"/>
<text x="373.25" y="793.25" font-size="10.8" text-anchor="middle">1</text>
<line x1="390.38" y1="713.75" x2="390.38" y2="710.00" stroke="#1c1c1c" stroke-width="1.15"/>
<line x1="386.88" y1="710.00" x2="393.88" y2="710.00" stroke="#1c1c1c" stroke-width="1.15"/>
<rect x="385.00" y="713.75" width="10.75" height="64.25" fill="#1c1c1c"/>
<line x1="390.38" y1="778.00" x2="390.38" y2="783.00" stroke="#2a2a2a" stroke-width="1.0"/>
<text x="390.00" y="793.25" font-size="10.8" text-anchor="middle">10</text>
<text x="245.50" y="795.75" font-size="10.8" textLength="42.00" lengthAdjust="spacingAndGlyphs">c11 (μM)</text>
<text x="316.75" y="710.15" font-size="11.3" text-anchor="middle" textLength="12.00" lengthAdjust="spacingAndGlyphs">##</text>
<text x="332.25" y="678.90" font-size="11.3" text-anchor="middle">#</text>
<text x="374.25" y="716.30" font-size="13.8" text-anchor="middle" textLength="11.00" lengthAdjust="spacingAndGlyphs">**</text>
<text x="390.25" y="706.30" font-size="13.8" text-anchor="middle">*</text>
<text x="524.25" y="653.75" font-size="11.8" textLength="45.75" lengthAdjust="spacingAndGlyphs" font-style="italic">HMGCR</text>
<text x="447.20" y="716.50" font-size="12" text-anchor="middle" textLength="109.00" lengthAdjust="spacingAndGlyphs" transform="rotate(-90 447.20 716.50)">Relative expression</text>
<text x="460.40" y="716.50" font-size="12" text-anchor="middle" textLength="133.00" lengthAdjust="spacingAndGlyphs" transform="rotate(-90 460.40 716.50)">(normalized by <tspan font-style="italic">GAPDH)</tspan></text>
<line x1="485.30" y1="666.25" x2="491.00" y2="666.25" stroke="#2a2a2a" stroke-width="1.0"/>
<text x="484.60" y="670.75" font-size="11.0" text-anchor="end" textLength="14.60" lengthAdjust="spacingAndGlyphs">2.5</text>
<line x1="485.30" y1="688.25" x2="491.00" y2="688.25" stroke="#2a2a2a" stroke-width="1.0"/>
<text x="484.60" y="692.75" font-size="11.0" text-anchor="end" textLength="14.60" lengthAdjust="spacingAndGlyphs">2.0</text>
<line x1="485.30" y1="710.75" x2="491.00" y2="710.75" stroke="#2a2a2a" stroke-width="1.0"/>
<text x="484.60" y="715.25" font-size="11.0" text-anchor="end" textLength="14.60" lengthAdjust="spacingAndGlyphs">1.5</text>
<line x1="485.30" y1="733.00" x2="491.00" y2="733.00" stroke="#2a2a2a" stroke-width="1.0"/>
<text x="484.60" y="737.50" font-size="11.0" text-anchor="end" textLength="14.60" lengthAdjust="spacingAndGlyphs">1.0</text>
<line x1="485.30" y1="755.50" x2="491.00" y2="755.50" stroke="#2a2a2a" stroke-width="1.0"/>
<text x="484.60" y="760.00" font-size="11.0" text-anchor="end" textLength="14.60" lengthAdjust="spacingAndGlyphs">0.5</text>
<line x1="485.30" y1="778.00" x2="491.00" y2="778.00" stroke="#2a2a2a" stroke-width="1.0"/>
<text x="484.60" y="782.50" font-size="11.0" text-anchor="end" textLength="14.60" lengthAdjust="spacingAndGlyphs">0.0</text>
<line x1="491.00" y1="665.75" x2="491.00" y2="778.50" stroke="#2a2a2a" stroke-width="1.0"/>
<line x1="485.30" y1="778.00" x2="603.00" y2="778.00" stroke="#2a2a2a" stroke-width="1.0"/>
<line x1="501.88" y1="733.25" x2="501.88" y2="732.25" stroke="#1c1c1c" stroke-width="1.15"/>
<line x1="498.38" y1="732.25" x2="505.38" y2="732.25" stroke="#1c1c1c" stroke-width="1.15"/>
<rect x="496.75" y="733.75" width="10.25" height="44.25" fill="#fff" stroke="#1c1c1c" stroke-width="1.0"/>
<line x1="501.88" y1="778.00" x2="501.88" y2="783.00" stroke="#2a2a2a" stroke-width="1.0"/>
<text x="501.25" y="793.25" font-size="10.8" text-anchor="middle">0</text>
<line x1="517.88" y1="723.00" x2="517.88" y2="720.75" stroke="#1c1c1c" stroke-width="1.15"/>
<line x1="514.38" y1="720.75" x2="521.38" y2="720.75" stroke="#1c1c1c" stroke-width="1.15"/>
<rect x="513.00" y="723.50" width="9.75" height="54.50" fill="#fff" stroke="#1c1c1c" stroke-width="1.0"/>
<line x1="517.88" y1="778.00" x2="517.88" y2="783.00" stroke="#2a2a2a" stroke-width="1.0"/>
<text x="517.00" y="793.25" font-size="10.8" text-anchor="middle">1</text>
<line x1="534.12" y1="678.25" x2="534.12" y2="675.75" stroke="#1c1c1c" stroke-width="1.15"/>
<line x1="530.62" y1="675.75" x2="537.62" y2="675.75" stroke="#1c1c1c" stroke-width="1.15"/>
<rect x="529.25" y="678.75" width="9.75" height="99.25" fill="#fff" stroke="#1c1c1c" stroke-width="1.0"/>
<line x1="534.12" y1="778.00" x2="534.12" y2="783.00" stroke="#2a2a2a" stroke-width="1.0"/>
<text x="533.75" y="793.25" font-size="10.8" text-anchor="middle">10</text>
<line x1="560.38" y1="745.75" x2="560.38" y2="744.00" stroke="#1c1c1c" stroke-width="1.15"/>
<line x1="556.88" y1="744.00" x2="563.88" y2="744.00" stroke="#1c1c1c" stroke-width="1.15"/>
<rect x="555.00" y="745.75" width="10.75" height="32.25" fill="#1c1c1c"/>
<line x1="560.38" y1="778.00" x2="560.38" y2="783.00" stroke="#2a2a2a" stroke-width="1.0"/>
<text x="559.50" y="793.25" font-size="10.8" text-anchor="middle">0</text>
<line x1="576.25" y1="748.25" x2="576.25" y2="746.50" stroke="#1c1c1c" stroke-width="1.15"/>
<line x1="572.75" y1="746.50" x2="579.75" y2="746.50" stroke="#1c1c1c" stroke-width="1.15"/>
<rect x="570.75" y="748.25" width="11.00" height="29.75" fill="#1c1c1c"/>
<line x1="576.25" y1="778.00" x2="576.25" y2="783.00" stroke="#2a2a2a" stroke-width="1.0"/>
<text x="575.75" y="793.25" font-size="10.8" text-anchor="middle">1</text>
<line x1="592.38" y1="741.50" x2="592.38" y2="740.25" stroke="#1c1c1c" stroke-width="1.15"/>
<line x1="588.88" y1="740.25" x2="595.88" y2="740.25" stroke="#1c1c1c" stroke-width="1.15"/>
<rect x="587.00" y="741.50" width="10.75" height="36.50" fill="#1c1c1c"/>
<line x1="592.38" y1="778.00" x2="592.38" y2="783.00" stroke="#2a2a2a" stroke-width="1.0"/>
<text x="592.00" y="793.25" font-size="10.8" text-anchor="middle">10</text>
<text x="450.70" y="795.75" font-size="10.8" textLength="41.90" lengthAdjust="spacingAndGlyphs">c11 (μM)</text>
<text x="517.75" y="716.40" font-size="11.3" text-anchor="middle">#</text>
<text x="533.90" y="672.30" font-size="11.3" text-anchor="middle" textLength="12.00" lengthAdjust="spacingAndGlyphs">##</text>
<text x="560.75" y="743.05" font-size="13.8" text-anchor="middle" textLength="11.00" lengthAdjust="spacingAndGlyphs">**</text>
<text x="576.00" y="743.05" font-size="13.8" text-anchor="middle" textLength="11.00" lengthAdjust="spacingAndGlyphs">**</text>
<text x="593.00" y="740.55" font-size="13.8" text-anchor="middle" textLength="11.00" lengthAdjust="spacingAndGlyphs">**</text>
<rect x="617.40" y="666.50" width="9.90" height="9.30" fill="#fff" stroke="#3a3a3a" stroke-width="1.0"/>
<rect x="616.90" y="682.90" width="10.90" height="10.40" fill="#1c1c1c"/>
<text x="634.20" y="674.80" font-size="11" textLength="68.80" lengthAdjust="spacingAndGlyphs">Control siRNA</text>
<text x="634.20" y="691.80" font-size="11" textLength="69.30" lengthAdjust="spacingAndGlyphs">GPR52 siRNA</text>
</svg>
</body>
</html>
